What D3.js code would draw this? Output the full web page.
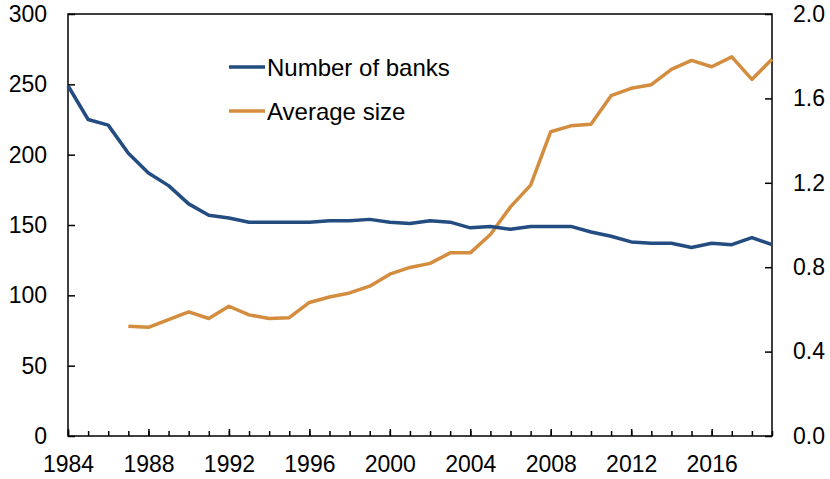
<!DOCTYPE html>
<html><head><meta charset="utf-8">
<script src="https://cdn.jsdelivr.net/npm/d3@7"></script>
<style>body{margin:0;background:#fff}svg{display:block}text{font-family:"Liberation Sans",Arial,sans-serif;fill:#000}</style>
</head><body><svg id="c" width="830" height="479"></svg>
<script>
const years = d3.range(1984, 2020);
const numberOfBanks = [249,225,221,201,187,178,165,157,155,152,152,152,152,153,153,154,152,151,153,152,148,149,147,149,149,149,145,142,138,137,137,134,137,136,141,136];
const sizeYears = d3.range(1987, 2020);
const averageSize = [0.52,0.515,0.552,0.588,0.557,0.615,0.574,0.557,0.561,0.633,0.659,0.678,0.710,0.767,0.799,0.818,0.868,0.868,0.955,1.086,1.189,1.442,1.470,1.477,1.613,1.648,1.665,1.738,1.780,1.750,1.797,1.690,1.786];
const leftTicks = [0,50,100,150,200,250,300];
const rightTicks = [0,0.4,0.8,1.2,1.6,2.0];
const xLabels = [1984,1988,1992,1996,2000,2004,2008,2012,2016];
const seriesNames = ["Number of banks","Average size"];
const colors = ["#234C80","#D48D3E"];

const svg = d3.select("#c");
const L=68, R=772, T=14, B=436;
const x = d3.scaleLinear().domain([1984,2019]).range([L,R]);
const yL = d3.scaleLinear().domain([0,300]).range([B,T]);
const yR = d3.scaleLinear().domain([0,2]).range([B,T]);
const fs = "23px";

svg.append("rect").attr("x",L).attr("y",T).attr("width",R-L).attr("height",B-T)
  .attr("fill","none").attr("stroke","#000").attr("stroke-width",1.5);

const gl = svg.append("g").attr("transform",`translate(${L},0)`)
  .call(d3.axisLeft(yL).tickValues(leftTicks).tickSizeInner(-7).tickSizeOuter(0).tickPadding(21).tickFormat(d3.format("d")));
const gr = svg.append("g").attr("transform",`translate(${R},0)`)
  .call(d3.axisRight(yR).tickValues(rightTicks).tickSizeInner(-7).tickSizeOuter(0).tickPadding(21).tickFormat(d3.format(".1f")));
const gb = svg.append("g").attr("transform",`translate(0,${B})`)
  .call(d3.axisBottom(x).tickValues(years).tickSizeInner(-5).tickSizeOuter(0).tickFormat(""));
const gb2 = svg.append("g").attr("transform",`translate(0,${B})`)
  .call(d3.axisBottom(x).tickValues(xLabels).tickSizeInner(-7).tickSizeOuter(0).tickPadding(20).tickFormat(d3.format("d")));
[gl,gr,gb,gb2].forEach(g=>{
  g.select(".domain").remove();
  g.selectAll("line").attr("stroke","#000").attr("stroke-width",1.5);
  g.selectAll("text").style("font-size",fs).attr("fill","#000").style("font-family","Liberation Sans, Arial, sans-serif");
});
gb2.selectAll("text").attr("dy","0.71em");

const lineL = d3.line().x((d,i)=>x(years[i])).y(d=>yL(d));
const lineR = d3.line().x((d,i)=>x(sizeYears[i])).y(d=>yR(d));
svg.append("path").datum(averageSize).attr("d",lineR).attr("fill","none")
  .attr("stroke",colors[1]).attr("stroke-width",3.5).attr("stroke-linejoin","round");
svg.append("path").datum(numberOfBanks).attr("d",lineL).attr("fill","none")
  .attr("stroke",colors[0]).attr("stroke-width",3.5).attr("stroke-linejoin","round");

const lg = svg.append("g");
seriesNames.forEach((n,i)=>{
  const yy = 67 + i*44;
  lg.append("line").attr("x1",229).attr("x2",265).attr("y1",yy).attr("y2",yy)
    .attr("stroke",colors[i]).attr("stroke-width",3.5);
  lg.append("text").attr("x",267).attr("y",yy).attr("dy","0.36em").style("font-size","24px").text(n);
});
</script></body></html>
